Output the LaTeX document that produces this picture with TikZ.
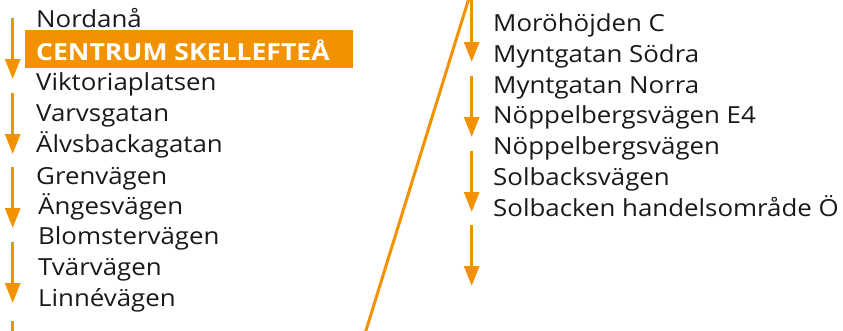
\documentclass[tikz,border=0pt]{standalone}
\usepackage{fontspec}
\setmainfont{Open Sans}
\usetikzlibrary{arrows.meta}
\definecolor{orng}{HTML}{F39200}
\newcommand{\stw}[1]{\scalebox{1.1}[1]{#1}}
\newcommand{\stwb}[1]{\scalebox{1.13}[1]{#1}}
\tikzset{
  stop/.style={anchor=base west, inner sep=0pt, font=\fontsize{23.5}{26}\selectfont, text=black!90},
  arr/.style={draw=orng, line width=3pt, -{Triangle[length=20pt,width=15pt]}},
  plain/.style={draw=orng, line width=3pt},
}
\begin{document}
\begin{tikzpicture}[x=1pt,y=-1pt]
\useasboundingbox (0,0) rectangle (843,330);
% highlight box
\fill[orng] (25,30) rectangle (353,68);
% left column
\node[stop] (l1) at (36,27.3) {\stw{Nordanå}};
\node[stop, text=white, font=\fontsize{23.5}{26}\selectfont\bfseries] (l2) at (36,60) {\stwb{CENTRUM SKELLEFTEÅ}};
\node[stop] (l3) at (36,90.5) {\stw{Viktoriaplatsen}};
\node[stop] (l4) at (36,121) {\stw{Varvsgatan}};
\node[stop] (l5) at (36,152) {\stw{Älvsbackagatan}};
\node[stop] (l6) at (36,184) {\stw{Grenvägen}};
\node[stop] (l7) at (38,214) {\stw{Ängesvägen}};
\node[stop] (l8) at (38,244) {\stw{Blomstervägen}};
\node[stop] (l9) at (38,275) {\stw{Tvärvägen}};
\node[stop] (l10) at (38,306) {\stw{Linnévägen}};
% right column
\node[stop] (r1) at (493,31) {\stw{Moröhöjden C}};
\node[stop] (r2) at (493,62.5) {\stw{Myntgatan Södra}};
\node[stop] (r3) at (493,93) {\stw{Myntgatan Norra}};
\node[stop] (r4) at (493,123) {\stw{Nöppelbergsvägen E4}};
\node[stop] (r5) at (493,154) {\stw{Nöppelbergsvägen}};
\node[stop] (r6) at (493,185.5) {\stw{Solbacksvägen}};
\node[stop] (r7) at (493,216.5) {\stw{Solbacken handelsområde Ö}};
% left arrows
\coordinate (a1s) at (12.7,18);  \coordinate (a1e) at (12.7,79);
\coordinate (a2s) at (12.7,93);  \coordinate (a2e) at (12.7,154);
\coordinate (a3s) at (12.7,167); \coordinate (a3e) at (12.7,228);
\coordinate (a4s) at (12.7,242); \coordinate (a4e) at (12.7,303);
\coordinate (a5s) at (12.7,321); \coordinate (a5e) at (12.7,332);
\draw[arr] (a1s) -- (a1e);
\draw[arr] (a2s) -- (a2e);
\draw[arr] (a3s) -- (a3e);
\draw[arr] (a4s) -- (a4e);
\draw[plain] (a5s) -- (a5e);
% diagonal connector
\coordinate (dtop) at (469,-2);
\coordinate (dbot) at (365.5,332);
\draw[plain] (dtop) -- (dbot);
% right arrows
\coordinate (b1s) at (471.7,-2);  \coordinate (b1e) at (471.7,62);
\coordinate (b2s) at (471.7,76);  \coordinate (b2e) at (471.7,137);
\coordinate (b3s) at (471.7,151); \coordinate (b3e) at (471.7,212);
\coordinate (b4s) at (471.7,225); \coordinate (b4e) at (471.7,286);
\draw[arr] (b1s) -- (b1e);
\draw[arr] (b2s) -- (b2e);
\draw[arr] (b3s) -- (b3e);
\draw[arr] (b4s) -- (b4e);
\end{tikzpicture}
\end{document}
